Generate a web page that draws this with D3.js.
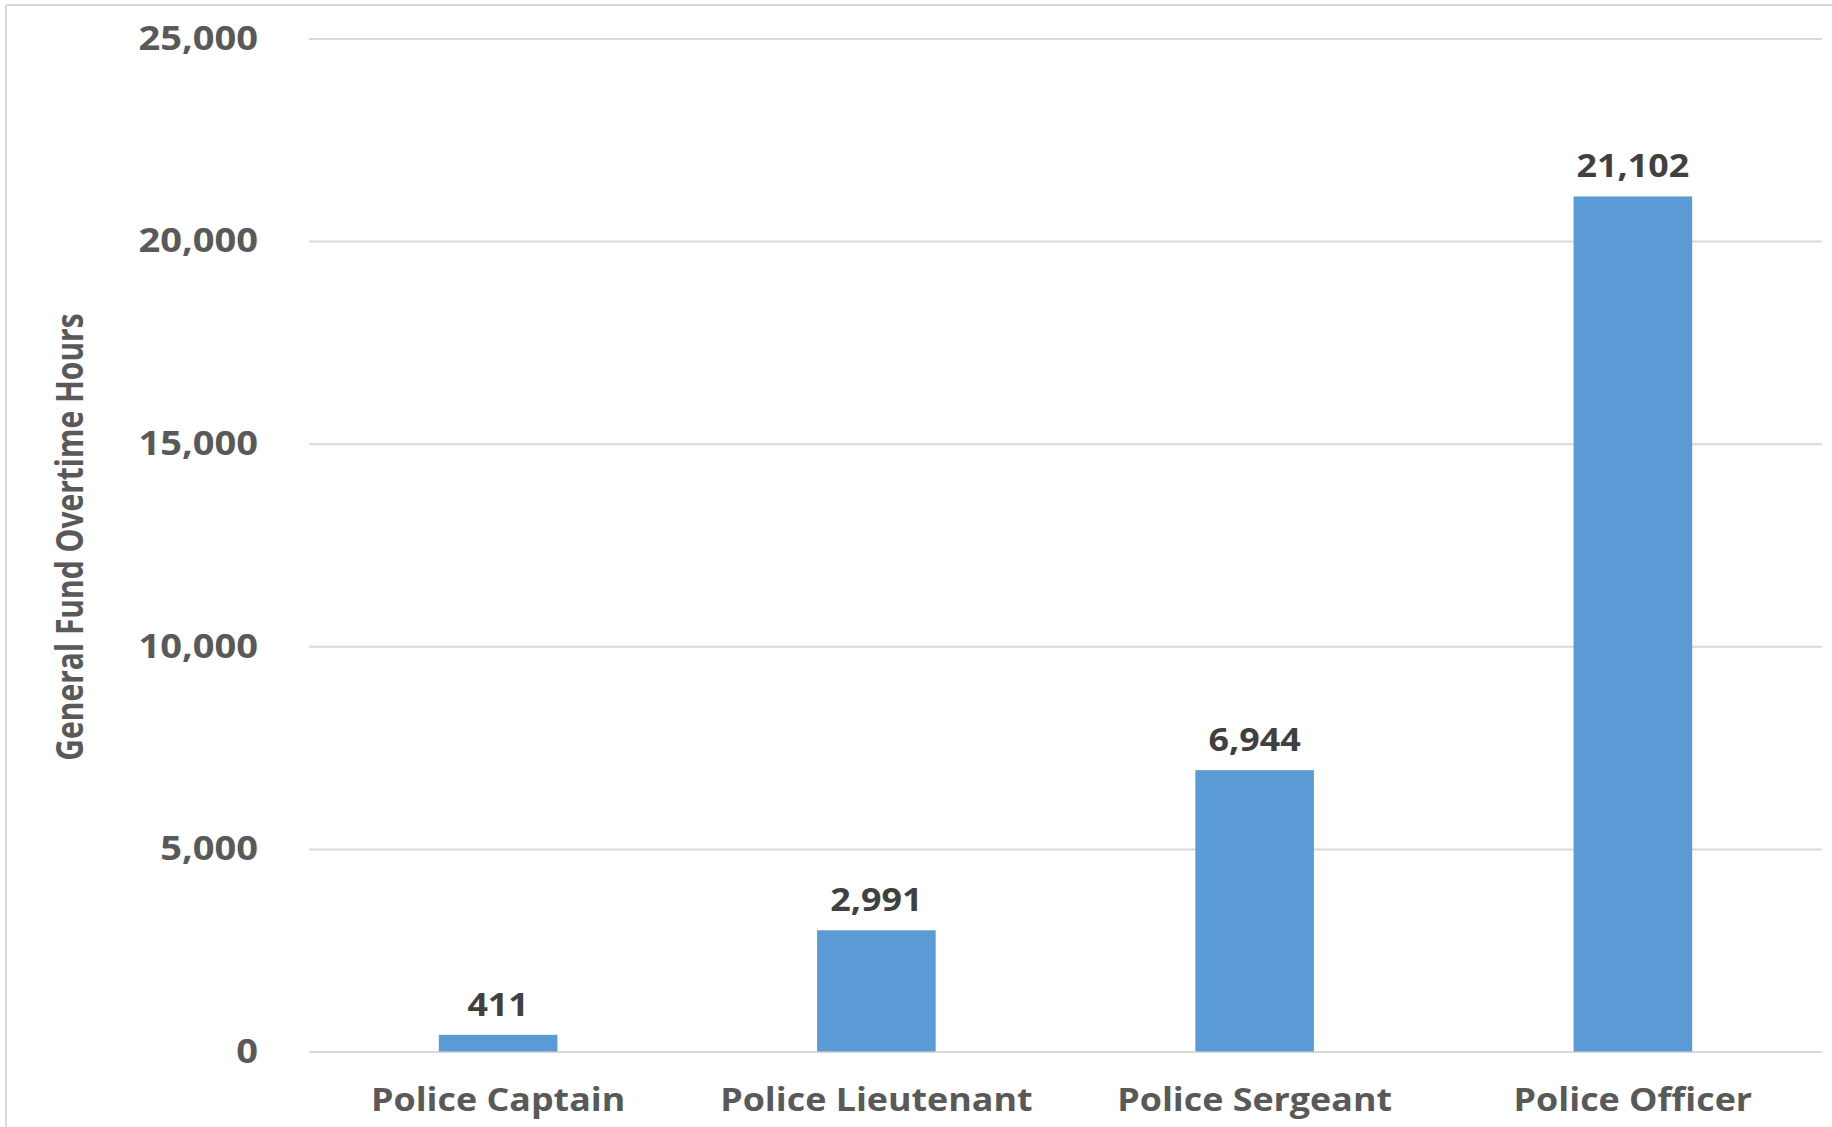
<!DOCTYPE html>
<html>
<head>
<meta charset="utf-8">
<script src="https://cdn.jsdelivr.net/npm/d3@7"></script>
<style>
  body { margin: 0; background: #ffffff; }
  text { font-family: "Open Sans", sans-serif; }
</style>
</head>
<body>
<script>
var categories = ["Police Captain", "Police Lieutenant", "Police Sergeant", "Police Officer"];
var hours = [411, 2991, 6944, 21102];
var yTicks = [0, 5000, 10000, 15000, 20000, 25000];
var yTitle = "General Fund Overtime Hours";

var fullWidth = 1832,
  fullHeight = 1127;

// the original picture is stretched sideways, so draw in a squeezed frame and stretch it back
var sx = 1.12;

var plotLeft = 309 / sx,
  plotRight = 1822 / sx,
  plotTop = 38.5,
  plotBottom = 1051.5;

var svg = d3
  .select("body")
  .append("svg")
  .attr("width", fullWidth)
  .attr("height", fullHeight);

svg.append("rect").attr("width", fullWidth).attr("height", fullHeight).attr("fill", "#ffffff");

// frame lines left and top
svg
  .append("line")
  .attr("x1", 6)
  .attr("x2", 6)
  .attr("y1", 5)
  .attr("y2", fullHeight)
  .attr("stroke", "#d9d9d9")
  .attr("stroke-width", 2);
svg
  .append("line")
  .attr("x1", 6)
  .attr("x2", fullWidth)
  .attr("y1", 5)
  .attr("y2", 5)
  .attr("stroke", "#d9d9d9")
  .attr("stroke-width", 2);

var stage = svg.append("g").attr("transform", "scale(" + sx + ",1)");

var x = d3.scaleBand().domain(categories).range([plotLeft, plotRight]).padding(0);

var y = d3.scaleLinear().domain([0, 25000]).range([plotBottom, plotTop]);

var barWidth = x.bandwidth() / 3.19;

// gridlines
var grid = stage
  .append("g")
  .attr("transform", "translate(" + plotLeft + ",0)")
  .call(
    d3
      .axisLeft(y)
      .tickValues(yTicks)
      .tickSize(-(plotRight - plotLeft))
      .tickFormat("")
  );
grid.select(".domain").remove();
grid.selectAll("line").attr("stroke", "#d9d9d9").attr("stroke-width", 2);

// y tick labels
var yAxis = stage
  .append("g")
  .attr("transform", "translate(" + plotLeft + ",0)")
  .call(
    d3
      .axisLeft(y)
      .tickValues(yTicks)
      .tickSize(0)
      .tickPadding(45.5)
      .tickFormat(d3.format(","))
  );
yAxis.select(".domain").remove();
yAxis
  .selectAll("text")
  .attr("font-family", "Open Sans")
  .attr("font-size", 34)
  .attr("font-weight", 700)
  .attr("fill", "#595959");

// bars
stage
  .selectAll(".bar")
  .data(hours)
  .enter()
  .append("rect")
  .attr("class", "bar")
  .attr("x", function (d, i) {
    return x(categories[i]) + x.bandwidth() / 2 - barWidth / 2;
  })
  .attr("y", function (d) {
    return y(d);
  })
  .attr("width", barWidth)
  .attr("height", function (d) {
    return y(0) - y(d);
  })
  .attr("fill", "#5b9bd5");

// value labels
stage
  .selectAll(".value")
  .data(hours)
  .enter()
  .append("text")
  .attr("class", "value")
  .attr("x", function (d, i) {
    return x(categories[i]) + x.bandwidth() / 2;
  })
  .attr("y", function (d) {
    return y(d) - 19;
  })
  .attr("text-anchor", "middle")
  .attr("font-size", 32)
  .attr("font-weight", 700)
  .attr("fill", "#404040")
  .text(function (d) {
    return d3.format(",")(d);
  });

// category labels
var xAxis = stage
  .append("g")
  .attr("transform", "translate(0," + plotBottom + ")")
  .call(d3.axisBottom(x).tickSize(0).tickPadding(37));
xAxis.select(".domain").remove();
xAxis
  .selectAll("text")
  .attr("font-family", "Open Sans")
  .attr("font-size", 32)
  .attr("font-weight", 700)
  .attr("fill", "#595959");

// y title, a bit taller glyphs than the plain font
stage
  .append("text")
  .attr("transform", "translate(" + 83 / sx + "," + 537 + ") rotate(-90) scale(1,1.12)")
  .attr("text-anchor", "middle")
  .attr("font-size", 30)
  .attr("font-weight", 700)
  .attr("fill", "#595959")
  .text(yTitle);
</script>
</body>
</html>
